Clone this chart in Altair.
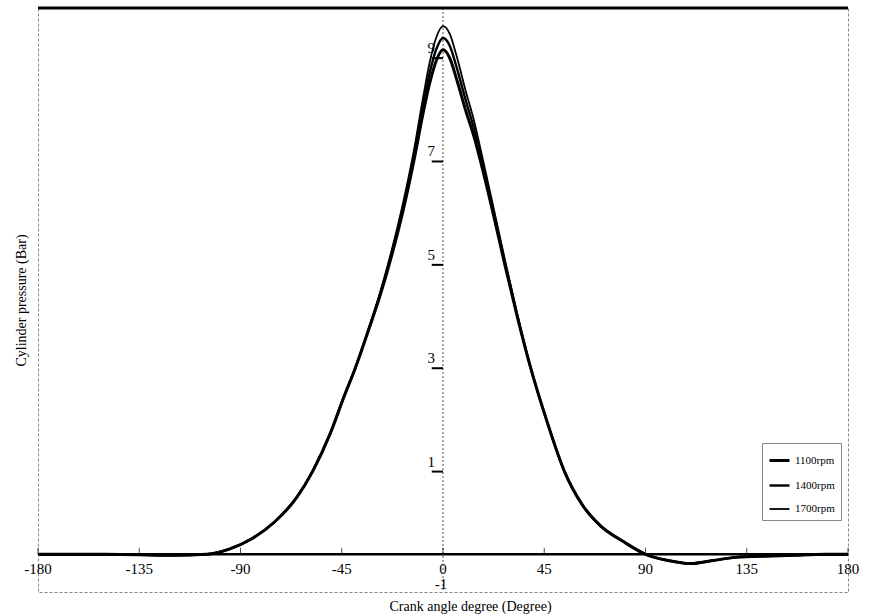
import altair as alt
import pandas as pd

# ---- data ----
angles = [-180, -150, -120, -105, -95, -85, -75, -65, -58, -50,
          -44, -39, -33, -28, -23, -18, -13, -9, -6, -3,
          0, 3, 6, 10, 14, 17, 22, 27.5, 33, 39,
          46, 54, 62, 70, 80, 90, 100, 110, 120, 130,
          140, 155, 170, 180]

p1100 = [-0.6, -0.6, -0.62, -0.6, -0.5, -0.3, 0.02, 0.5, 1.0, 1.75,
         2.45, 3.0, 3.75, 4.4, 5.15, 6.0, 7.0, 7.9, 8.5, 8.95,
         9.16, 9.0, 8.6, 8.0, 7.45, 6.95, 6.05, 5.0, 4.0, 3.0,
         2.0, 1.0, 0.35, -0.05, -0.35, -0.6, -0.72, -0.78, -0.72, -0.66,
         -0.64, -0.62, -0.6, -0.6]

p1400 = [-0.6, -0.6, -0.62, -0.6, -0.5, -0.3, 0.02, 0.5, 1.0, 1.75,
         2.45, 3.0, 3.76, 4.43, 5.2, 6.08, 7.1, 8.05, 8.7, 9.17,
         9.39, 9.24, 8.83, 8.2, 7.6, 7.07, 6.12, 5.05, 4.02, 3.0,
         2.0, 1.0, 0.35, -0.05, -0.35, -0.6, -0.72, -0.78, -0.72, -0.66,
         -0.64, -0.62, -0.6, -0.6]

p1700 = [-0.6, -0.6, -0.62, -0.6, -0.5, -0.3, 0.02, 0.5, 1.0, 1.75,
         2.45, 3.0, 3.77, 4.46, 5.25, 6.15, 7.2, 8.2, 8.9, 9.4,
         9.62, 9.47, 9.05, 8.38, 7.75, 7.18, 6.2, 5.1, 4.05, 3.0,
         2.0, 1.0, 0.35, -0.05, -0.35, -0.6, -0.72, -0.78, -0.72, -0.66,
         -0.64, -0.62, -0.6, -0.6]

series_names = ["1100rpm", "1400rpm", "1700rpm"]
series_widths = [3.0, 1.8, 1.1]

x_ticks = [-180, -135, -90, -45, 0, 45, 90, 135, 180]
y_ticks = [9, 7, 5, 3, 1]
y_bottom_label = -1
x_axis_level = -0.6
y_domain = [-1.33, 9.97]
x_domain = [-180, 180]

FONT = "Liberation Serif"

rows = []
for name, vals in zip(series_names, [p1100, p1400, p1700]):
    for a, v in zip(angles, vals):
        rows.append({"angle": a, "pressure": v, "series": name})
df = pd.DataFrame(rows)

xs = alt.Scale(domain=x_domain, nice=False, zero=False)
ys = alt.Scale(domain=y_domain, nice=False, zero=False)

lines = alt.Chart(df).mark_line(interpolate="monotone", color="black").encode(
    x=alt.X("angle:Q", scale=xs,
            axis=alt.Axis(title="Crank angle degree (Degree)", labels=False, ticks=False,
                          domain=False, grid=False, titlePadding=7, titleX=432)),
    y=alt.Y("pressure:Q", scale=ys,
            axis=alt.Axis(title="Cylinder pressure (Bar)", labels=False, ticks=False,
                          domain=False, grid=False, titlePadding=10)),
    strokeWidth=alt.StrokeWidth("series:N",
                                scale=alt.Scale(domain=series_names, range=series_widths),
                                legend=alt.Legend(title=None, orient="none", legendX=724, legendY=435,
                                                  symbolType="stroke", symbolSize=400,
                                                  symbolStrokeColor="black",
                                                  labelFont=FONT, labelFontSize=11,
                                                  labelColor="black",
                                                  strokeColor="#888", padding=6, rowPadding=7,
                                                  fillColor="white")),
    detail="series:N",
    order="angle:Q",
)

# x axis line at the baseline level
x_axis_line = alt.Chart(pd.DataFrame({"a": [0]})).mark_rule(color="black", strokeWidth=2.5).encode(
    x=alt.datum(x_domain[0], scale=xs), x2=alt.datum(x_domain[1]),
    y=alt.datum(x_axis_level, scale=ys),
)

xt = pd.DataFrame({"t": x_ticks, "lab": [str(t) for t in x_ticks], "lvl": [x_axis_level] * len(x_ticks)})
x_labels = alt.Chart(xt).mark_text(font=FONT, fontSize=15, color="black", dy=15, baseline="middle").encode(
    x=alt.X("t:Q", scale=xs), y=alt.Y("lvl:Q", scale=ys), text="lab:N"
)
x_tickmarks = alt.Chart(xt).mark_tick(orient="vertical", size=7, thickness=1, color="black", yOffset=-3).encode(
    x=alt.X("t:Q", scale=xs), y=alt.Y("lvl:Q", scale=ys)
)

# dotted vertical y axis at 0 deg
y_axis_line = alt.Chart(pd.DataFrame({"a": [0]})).mark_rule(color="#555", strokeDash=[2, 2], strokeWidth=1).encode(
    x=alt.datum(0, scale=xs)
)

yt = pd.DataFrame({"v": y_ticks, "lab": [str(v) for v in y_ticks], "x0": [0] * len(y_ticks)})
y_labels = alt.Chart(yt).mark_text(font=FONT, fontSize=15, color="black", align="right", dx=-8, dy=-10).encode(
    x=alt.X("x0:Q", scale=xs), y=alt.Y("v:Q", scale=ys), text="lab:N"
)
y_tickmarks = alt.Chart(yt).mark_rule(color="black", strokeWidth=2).encode(
    x=alt.datum(-5, scale=xs), x2=alt.datum(0), y=alt.Y("v:Q", scale=ys)
)

ybl = pd.DataFrame({"v": [y_bottom_label], "lab": [str(y_bottom_label)], "x0": [0]})
y_bottom = alt.Chart(ybl).mark_text(font=FONT, fontSize=15, color="black", align="center", dx=-2, dy=9).encode(
    x=alt.X("x0:Q", scale=xs), y=alt.Y("v:Q", scale=ys), text="lab:N"
)

top_border = alt.Chart(pd.DataFrame({"a": [0]})).mark_rule(color="black", strokeWidth=3).encode(
    x=alt.value(0), x2=alt.value(810), y=alt.value(0)
)

chart = alt.layer(
    y_axis_line, x_axis_line, x_tickmarks, lines, x_labels, y_tickmarks, y_labels, y_bottom, top_border
).properties(
    width=810, height=584,
    autosize=alt.AutoSizeParams(type="none"),
    padding={"left": 38, "top": 8, "right": 31, "bottom": 24},
    background="white",
).configure_view(
    stroke="#888", strokeDash=[3, 2], strokeWidth=1
).configure_axis(
    titleFont=FONT, titleFontSize=14, titleFontWeight="normal", titleColor="black"
)

chart.save("out.html", embed_options={"renderer": "svg", "actions": False})
